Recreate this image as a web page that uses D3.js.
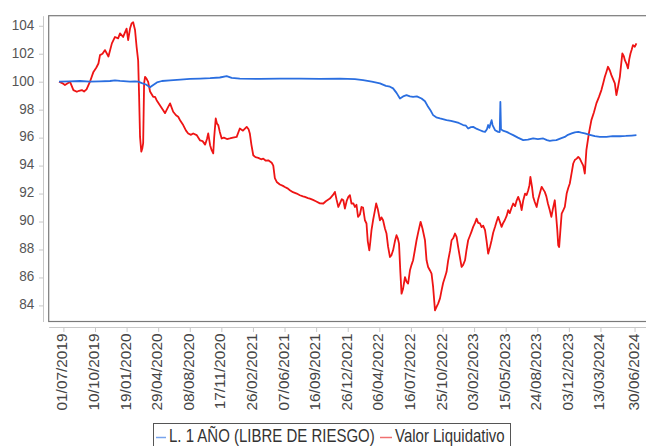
<!DOCTYPE html>
<html>
<head>
<meta charset="utf-8">
<script src="https://cdn.jsdelivr.net/npm/d3@7"></script>
<style>
  body { margin: 0; background: #fff; }
  text { font-family: "Liberation Sans", Arial, sans-serif; }
</style>
</head>
<body>
<script>
// series names
const seriesNames = ['L. 1 AÑO (LIBRE DE RIESGO)', 'Valor Liquidativo']

// y tick labels
const yTicks = [84, 86, 88, 90, 92, 94, 96, 98, 100, 102, 104]

// x tick labels (dates shown on the axis)
const xTickDates = ['2019-07-01', '2019-10-10', '2020-01-19', '2020-04-29', '2020-08-08', '2020-11-17',
  '2021-02-26', '2021-06-07', '2021-09-16', '2021-12-26', '2022-04-06', '2022-07-16', '2022-10-25',
  '2023-02-03', '2023-05-15', '2023-08-24', '2023-12-03', '2024-03-13', '2024-06-30']

// L. 1 AÑO (libre de riesgo)
const rfDates = ['2019-06-17', '2019-07-22', '2019-08-23', '2019-09-24', '2019-10-26', '2019-11-27', '2019-12-13', '2019-12-29',
  '2020-01-30', '2020-02-15', '2020-02-25', '2020-03-08', '2020-03-21', '2020-04-03', '2020-04-12', '2020-04-25', '2020-05-11',
  '2020-06-06', '2020-07-09', '2020-08-09', '2020-09-10', '2020-10-12', '2020-11-12', '2020-12-04', '2020-12-20',
  '2021-01-15', '2021-03-21', '2021-05-23', '2021-07-26', '2021-09-28', '2021-12-01',
  '2022-01-18', '2022-02-13', '2022-03-13', '2022-04-08', '2022-04-27', '2022-05-10', '2022-05-20', '2022-05-31', '2022-06-11',
  '2022-06-21', '2022-07-02', '2022-07-13', '2022-07-23', '2022-08-04', '2022-08-19', '2022-08-30', '2022-09-09', '2022-09-18',
  '2022-09-25', '2022-10-05', '2022-10-17', '2022-11-07', '2022-11-21', '2022-12-04', '2022-12-16', '2022-12-30',
  '2023-01-08', '2023-01-15', '2023-01-24', '2023-01-31', '2023-02-12', '2023-02-22', '2023-03-03', '2023-03-10', '2023-03-16',
  '2023-03-20', '2023-03-24', '2023-03-27', '2023-03-31', '2023-04-03', '2023-04-11', '2023-04-21', '2023-04-26', '2023-04-28',
  '2023-04-30', '2023-05-06', '2023-05-18', '2023-05-28', '2023-06-08', '2023-06-23', '2023-07-10', '2023-07-25', '2023-08-11',
  '2023-08-26', '2023-09-12', '2023-09-24', '2023-10-03', '2023-10-13', '2023-10-24', '2023-11-07', '2023-11-20', '2023-11-30',
  '2023-12-12', '2023-12-22', '2024-01-02', '2024-01-12', '2024-01-23', '2024-02-08', '2024-02-24', '2024-03-11', '2024-04-01',
  '2024-04-21', '2024-05-14', '2024-06-02', '2024-06-21', '2024-07-06']
const rfValues = [100.0, 100.02, 100.05, 100.0, 100.03, 100.05, 100.1, 100.06,
  100.0, 100.02, 100.0, 99.9, 99.8, 99.6, 99.75, 99.95, 100.05,
  100.1, 100.15, 100.2, 100.22, 100.25, 100.3, 100.4, 100.28,
  100.22, 100.2, 100.22, 100.22, 100.2, 100.22,
  100.18, 100.11, 100.0, 99.88, 99.7, 99.64, 99.52, 99.2, 98.8,
  98.95, 99.04, 98.95, 98.92, 98.95, 98.8, 98.6, 98.2, 97.9,
  97.61, 97.45, 97.37, 97.25, 97.2, 97.13, 97.05, 96.9,
  96.85, 96.65, 96.75, 96.77, 96.62, 96.53, 96.45, 96.41, 96.6,
  96.9, 96.7, 96.95, 97.25, 96.9, 96.53, 96.41, 96.4, 98.56,
  96.6, 96.5, 96.41, 96.3, 96.18, 96.0, 95.82, 95.85, 95.94,
  95.9, 95.94, 95.82, 95.77, 95.8, 95.82, 95.95, 96.05, 96.2,
  96.3, 96.38, 96.41, 96.35, 96.3, 96.2, 96.1, 96.05, 96.05,
  96.1, 96.1, 96.12, 96.15, 96.18]

// Valor liquidativo
const vlDates = ['2019-06-17', '2019-06-27', '2019-07-06', '2019-07-16', '2019-07-22', '2019-08-02', '2019-08-13', '2019-08-20',
  '2019-08-29', '2019-09-05', '2019-09-13', '2019-09-24', '2019-10-05', '2019-10-14', '2019-10-21', '2019-10-26', '2019-11-03',
  '2019-11-11', '2019-11-22', '2019-12-03', '2019-12-13', '2019-12-23', '2019-12-29',
  '2020-01-08', '2020-01-19', '2020-01-24', '2020-01-30', '2020-02-04', '2020-02-09', '2020-02-15', '2020-02-20', '2020-02-25',
  '2020-02-28', '2020-03-02', '2020-03-06', '2020-03-09', '2020-03-12', '2020-03-15', '2020-03-18', '2020-03-23', '2020-03-28',
  '2020-04-03', '2020-04-13', '2020-04-19', '2020-04-24', '2020-05-05', '2020-05-14', '2020-05-21', '2020-05-31', '2020-06-06',
  '2020-06-16', '2020-06-25', '2020-07-02', '2020-07-09', '2020-07-18', '2020-07-27', '2020-08-03', '2020-08-12', '2020-08-19',
  '2020-08-30', '2020-09-10', '2020-09-18', '2020-09-26', '2020-10-02', '2020-10-06', '2020-10-12', '2020-10-17', '2020-10-22',
  '2020-10-25', '2020-10-30', '2020-11-03', '2020-11-07', '2020-11-12', '2020-11-18', '2020-11-25', '2020-12-05', '2020-12-14',
  '2020-12-24',
  '2021-01-05', '2021-01-15', '2021-01-25', '2021-02-06', '2021-02-12', '2021-02-16', '2021-02-21', '2021-02-27', '2021-03-06',
  '2021-03-15', '2021-03-24', '2021-03-31', '2021-04-08', '2021-04-16', '2021-04-27', '2021-05-02', '2021-05-07', '2021-05-13',
  '2021-05-23', '2021-06-02', '2021-06-08', '2021-06-18', '2021-06-24', '2021-07-04', '2021-07-16', '2021-07-26', '2021-08-05',
  '2021-08-11', '2021-08-21', '2021-08-27', '2021-09-06', '2021-09-15', '2021-09-28', '2021-10-09', '2021-10-17', '2021-10-30',
  '2021-11-09', '2021-11-15', '2021-11-20', '2021-11-26', '2021-12-01', '2021-12-07', '2021-12-12', '2021-12-17', '2021-12-23',
  '2021-12-28',
  '2022-01-02', '2022-01-07', '2022-01-13', '2022-01-18', '2022-01-23', '2022-01-28', '2022-02-03', '2022-02-08', '2022-02-13',
  '2022-02-19', '2022-02-24', '2022-02-28', '2022-03-05', '2022-03-08', '2022-03-12', '2022-03-17', '2022-03-23', '2022-03-27',
  '2022-04-01', '2022-04-08', '2022-04-13', '2022-04-18', '2022-04-24', '2022-04-29', '2022-05-04', '2022-05-10', '2022-05-15',
  '2022-05-20', '2022-05-26', '2022-05-31', '2022-06-04', '2022-06-08', '2022-06-12', '2022-06-16', '2022-06-21', '2022-06-27',
  '2022-07-02', '2022-07-07', '2022-07-13', '2022-07-18', '2022-07-23', '2022-07-29', '2022-08-03', '2022-08-09', '2022-08-16',
  '2022-08-22', '2022-08-30', '2022-09-04', '2022-09-09', '2022-09-15', '2022-09-20', '2022-09-25', '2022-10-01', '2022-10-06',
  '2022-10-11', '2022-10-17', '2022-10-22', '2022-10-27', '2022-11-02', '2022-11-07', '2022-11-12', '2022-11-18', '2022-11-23',
  '2022-11-28', '2022-12-04', '2022-12-09', '2022-12-14', '2022-12-20', '2022-12-25', '2022-12-30',
  '2023-01-05', '2023-01-10', '2023-01-15', '2023-01-21', '2023-01-26', '2023-01-31', '2023-02-06', '2023-02-11', '2023-02-16',
  '2023-02-22', '2023-02-27', '2023-03-04', '2023-03-10', '2023-03-15', '2023-03-20', '2023-03-26', '2023-03-31', '2023-04-05',
  '2023-04-11', '2023-04-16', '2023-04-21', '2023-04-26', '2023-05-02', '2023-05-07', '2023-05-12', '2023-05-18', '2023-05-23',
  '2023-05-28', '2023-06-03', '2023-06-08', '2023-06-14', '2023-06-19', '2023-06-24', '2023-06-30', '2023-07-05', '2023-07-10',
  '2023-07-16', '2023-07-21', '2023-07-26', '2023-07-30', '2023-08-02', '2023-08-07', '2023-08-11', '2023-08-16', '2023-08-22',
  '2023-08-27', '2023-09-01', '2023-09-07', '2023-09-12', '2023-09-17', '2023-09-22', '2023-09-27', '2023-10-03', '2023-10-08',
  '2023-10-13', '2023-10-19', '2023-10-23', '2023-10-27', '2023-10-30', '2023-11-02', '2023-11-06', '2023-11-10', '2023-11-15',
  '2023-11-20', '2023-11-26', '2023-12-01', '2023-12-06', '2023-12-12', '2023-12-17', '2023-12-22', '2023-12-28',
  '2024-01-02', '2024-01-07', '2024-01-12', '2024-01-18', '2024-01-23', '2024-01-28', '2024-02-05', '2024-02-13', '2024-02-21',
  '2024-02-29', '2024-03-08', '2024-03-16', '2024-03-22', '2024-03-27', '2024-04-01', '2024-04-06', '2024-04-12', '2024-04-17',
  '2024-04-22', '2024-04-28', '2024-05-03', '2024-05-08', '2024-05-14', '2024-05-18', '2024-05-22', '2024-05-27', '2024-05-30',
  '2024-06-04', '2024-06-09', '2024-06-13', '2024-06-17', '2024-06-21', '2024-06-25', '2024-07-01', '2024-07-06']
const vlValues = [100.0, 99.9, 99.76, 99.9, 100.0, 99.4, 99.28, 99.35,
  99.4, 99.3, 99.45, 100.0, 100.7, 101.0, 101.3, 101.9, 102.0,
  102.26, 101.8, 102.74, 103.2, 103.1, 103.46,
  103.2, 103.8, 102.98, 103.8, 104.17, 104.25, 103.7, 102.5, 101.5,
  99.0, 96.05, 95.0, 95.2, 95.6, 99.88, 100.35, 100.2, 99.99,
  99.3, 98.92, 98.92, 98.68, 98.3, 98.0, 97.75, 98.2, 98.45,
  97.85, 97.6, 97.49, 97.2, 96.9, 96.5, 96.3, 96.2, 96.3,
  96.18, 95.8, 95.75, 95.5, 95.9, 96.3, 95.46, 95.1, 94.87,
  96.0, 97.37, 97.0, 96.9, 96.41, 95.94, 96.0, 95.9, 95.94,
  96.0,
  96.05, 96.65, 96.5, 96.77, 96.6, 96.3, 95.5, 94.74, 94.6,
  94.55, 94.45, 94.5, 94.35, 94.38, 94.2, 94.0, 93.1, 92.83,
  92.65, 92.55, 92.47, 92.35, 92.24, 92.1, 92.0, 91.88, 91.8,
  91.76, 91.68, 91.64, 91.55, 91.45, 91.3, 91.29, 91.45, 91.64,
  91.9, 92.12, 91.6, 91.04, 91.3, 91.6, 91.52, 90.93, 91.5,
  91.76,
  91.88, 91.29, 91.3, 91.04, 91.2, 90.33, 90.5, 91.04, 91.0,
  90.09, 89.86, 88.6, 87.94, 88.5, 89.38, 90.09, 90.8, 91.29,
  90.9, 90.09, 90.3, 90.09, 89.5, 89.14, 88.2, 87.46, 87.6,
  87.94, 88.6, 89.02, 88.8, 88.42, 86.5, 84.84, 85.2, 86.03,
  85.7, 85.56, 86.51, 86.9, 87.23, 88.0, 88.66, 89.3, 89.98,
  89.5, 88.66, 87.23, 86.75, 86.5, 86.27, 85.32, 83.65, 83.9,
  84.13, 84.5, 85.08, 85.6, 86.03, 86.4, 87.2, 87.9, 88.66,
  88.8, 89.14, 88.9, 88.18, 87.4, 86.75, 86.9,
  87.23, 88.0, 88.66, 89.0, 89.3, 89.62, 89.9, 90.21, 89.9,
  89.86, 89.6, 89.7, 89.38, 88.6, 87.7, 88.2, 88.66, 89.2,
  89.62, 90.0, 90.33, 90.0, 89.62, 89.9, 90.09, 90.4, 90.81,
  90.6, 91.0, 91.29, 91.1, 91.5, 91.76, 91.4, 90.81, 91.5,
  92.0, 91.9, 92.24, 92.6, 93.19, 92.5, 91.76, 91.4, 91.04,
  91.6, 92.0, 92.48, 92.3, 92.12, 91.8, 91.29, 90.8, 90.33,
  90.9, 91.52, 90.5, 89.38, 88.3, 88.18, 89.4, 90.57, 90.8,
  91.04, 92.0, 92.4, 92.72, 93.5, 94.15, 94.4, 94.5,
  94.62, 94.5, 94.26, 94.0, 93.43, 95.1, 96.3, 97.25, 97.8,
  98.45, 98.9, 99.4, 99.9, 100.35, 100.7, 101.07, 100.8, 100.47,
  100.2, 99.88, 99.04, 99.6, 100.35, 101.2, 102.02, 101.8, 101.54,
  101.3, 100.95, 101.6, 102.02, 102.3, 102.62, 102.5, 102.74]

const colors = ['#2a6ee0', '#ee1414']
const swatchColors = ['#78a4ec', '#f07070']

const w = 646
const h = 446
const plotLeft = 48.7
const plotTop = 15.7
const plotBottom = 321.5
const plotRight = 648

const parse = d3.timeParse('%Y-%m-%d')
const fmt = d3.timeFormat('%d/%m/%Y')

const rf = rfDates.map((d, i) => ({ date: parse(d), value: rfValues[i] }))
const vl = vlDates.map((d, i) => ({ date: parse(d), value: vlValues[i] }))

const x = d3.scaleTime()
  .domain([parse('2019-05-15'), parse('2024-08-12')])
  .range([plotLeft, plotRight])

const y = d3.scaleLinear()
  .domain([82.85, 104.72])
  .range([plotBottom, plotTop])

const svg = d3.select('body')
  .append('svg')
  .attr('width', w)
  .attr('height', h)

// plot frame
svg.append('rect')
  .attr('x', plotLeft)
  .attr('y', plotTop)
  .attr('width', plotRight - plotLeft + 10)
  .attr('height', plotBottom - plotTop)
  .attr('fill', '#fff')
  .attr('stroke', '#7a7a7a')
  .attr('stroke-width', 1.2)

const yAxis = d3.axisLeft(y).tickValues(yTicks).tickSize(4).tickSizeOuter(0).tickPadding(4.7)
svg.append('g')
  .attr('transform', 'translate(43,0)')
  .call(yAxis)
  .call(g => g.select('.domain').attr('stroke', '#c8c8c8'))
  .call(g => g.selectAll('.tick line').attr('stroke', '#c8c8c8'))
  .call(g => g.selectAll('.tick text')
    .attr('fill', '#555')
    .attr('font-size', 13.5)
    .attr('dy', '0.22em')
    .attr('transform', 'scale(1,1.13)'))

const xAxis = d3.axisBottom(x)
  .tickValues(xTickDates.map(parse))
  .tickFormat(fmt)
  .tickSize(5)
  .tickSizeOuter(0)
svg.append('g')
  .attr('transform', 'translate(0,327)')
  .call(xAxis)
  .call(g => g.select('.domain').attr('stroke', '#c8c8c8'))
  .call(g => g.selectAll('.tick line').attr('stroke', '#c8c8c8'))
  .call(g => g.selectAll('.tick text')
    .attr('fill', '#444')
    .attr('font-size', 14)
    .attr('x', 0)
    .attr('y', 0)
    .attr('dy', '0.25em')
    .attr('text-anchor', 'end')
    .attr('transform', 'translate(0,6.5) rotate(-90) scale(1.1,1)'))

const line = d3.line()
  .x(d => x(d.date))
  .y(d => y(d.value))

svg.append('path')
  .datum(vl)
  .attr('fill', 'none')
  .attr('stroke', colors[1])
  .attr('stroke-width', 1.8)
  .attr('stroke-linejoin', 'round')
  .attr('d', line)

svg.append('path')
  .datum(rf)
  .attr('fill', 'none')
  .attr('stroke', colors[0])
  .attr('stroke-width', 1.8)
  .attr('stroke-linejoin', 'round')
  .attr('d', line)

// legend
const legend = svg.append('g')
legend.append('rect')
  .attr('x', 153.5)
  .attr('y', 423.5)
  .attr('width', 357)
  .attr('height', 40)
  .attr('fill', '#fff')
  .attr('stroke', '#555')

const legendItems = [{ x: 156, w: 10, tx: 169 }, { x: 380, w: 12, tx: 395 }]
legendItems.forEach((it, i) => {
  legend.append('line')
    .attr('x1', it.x)
    .attr('x2', it.x + it.w)
    .attr('y1', 437.5)
    .attr('y2', 437.5)
    .attr('stroke', swatchColors[i])
    .attr('stroke-width', 1.5)
  legend.append('text')
    .attr('transform', `translate(${it.tx},441.5) scale(1,1.18)`)
    .attr('font-size', 15)
    .attr('fill', '#333')
    .text(seriesNames[i])
})
</script>
</body>
</html>
